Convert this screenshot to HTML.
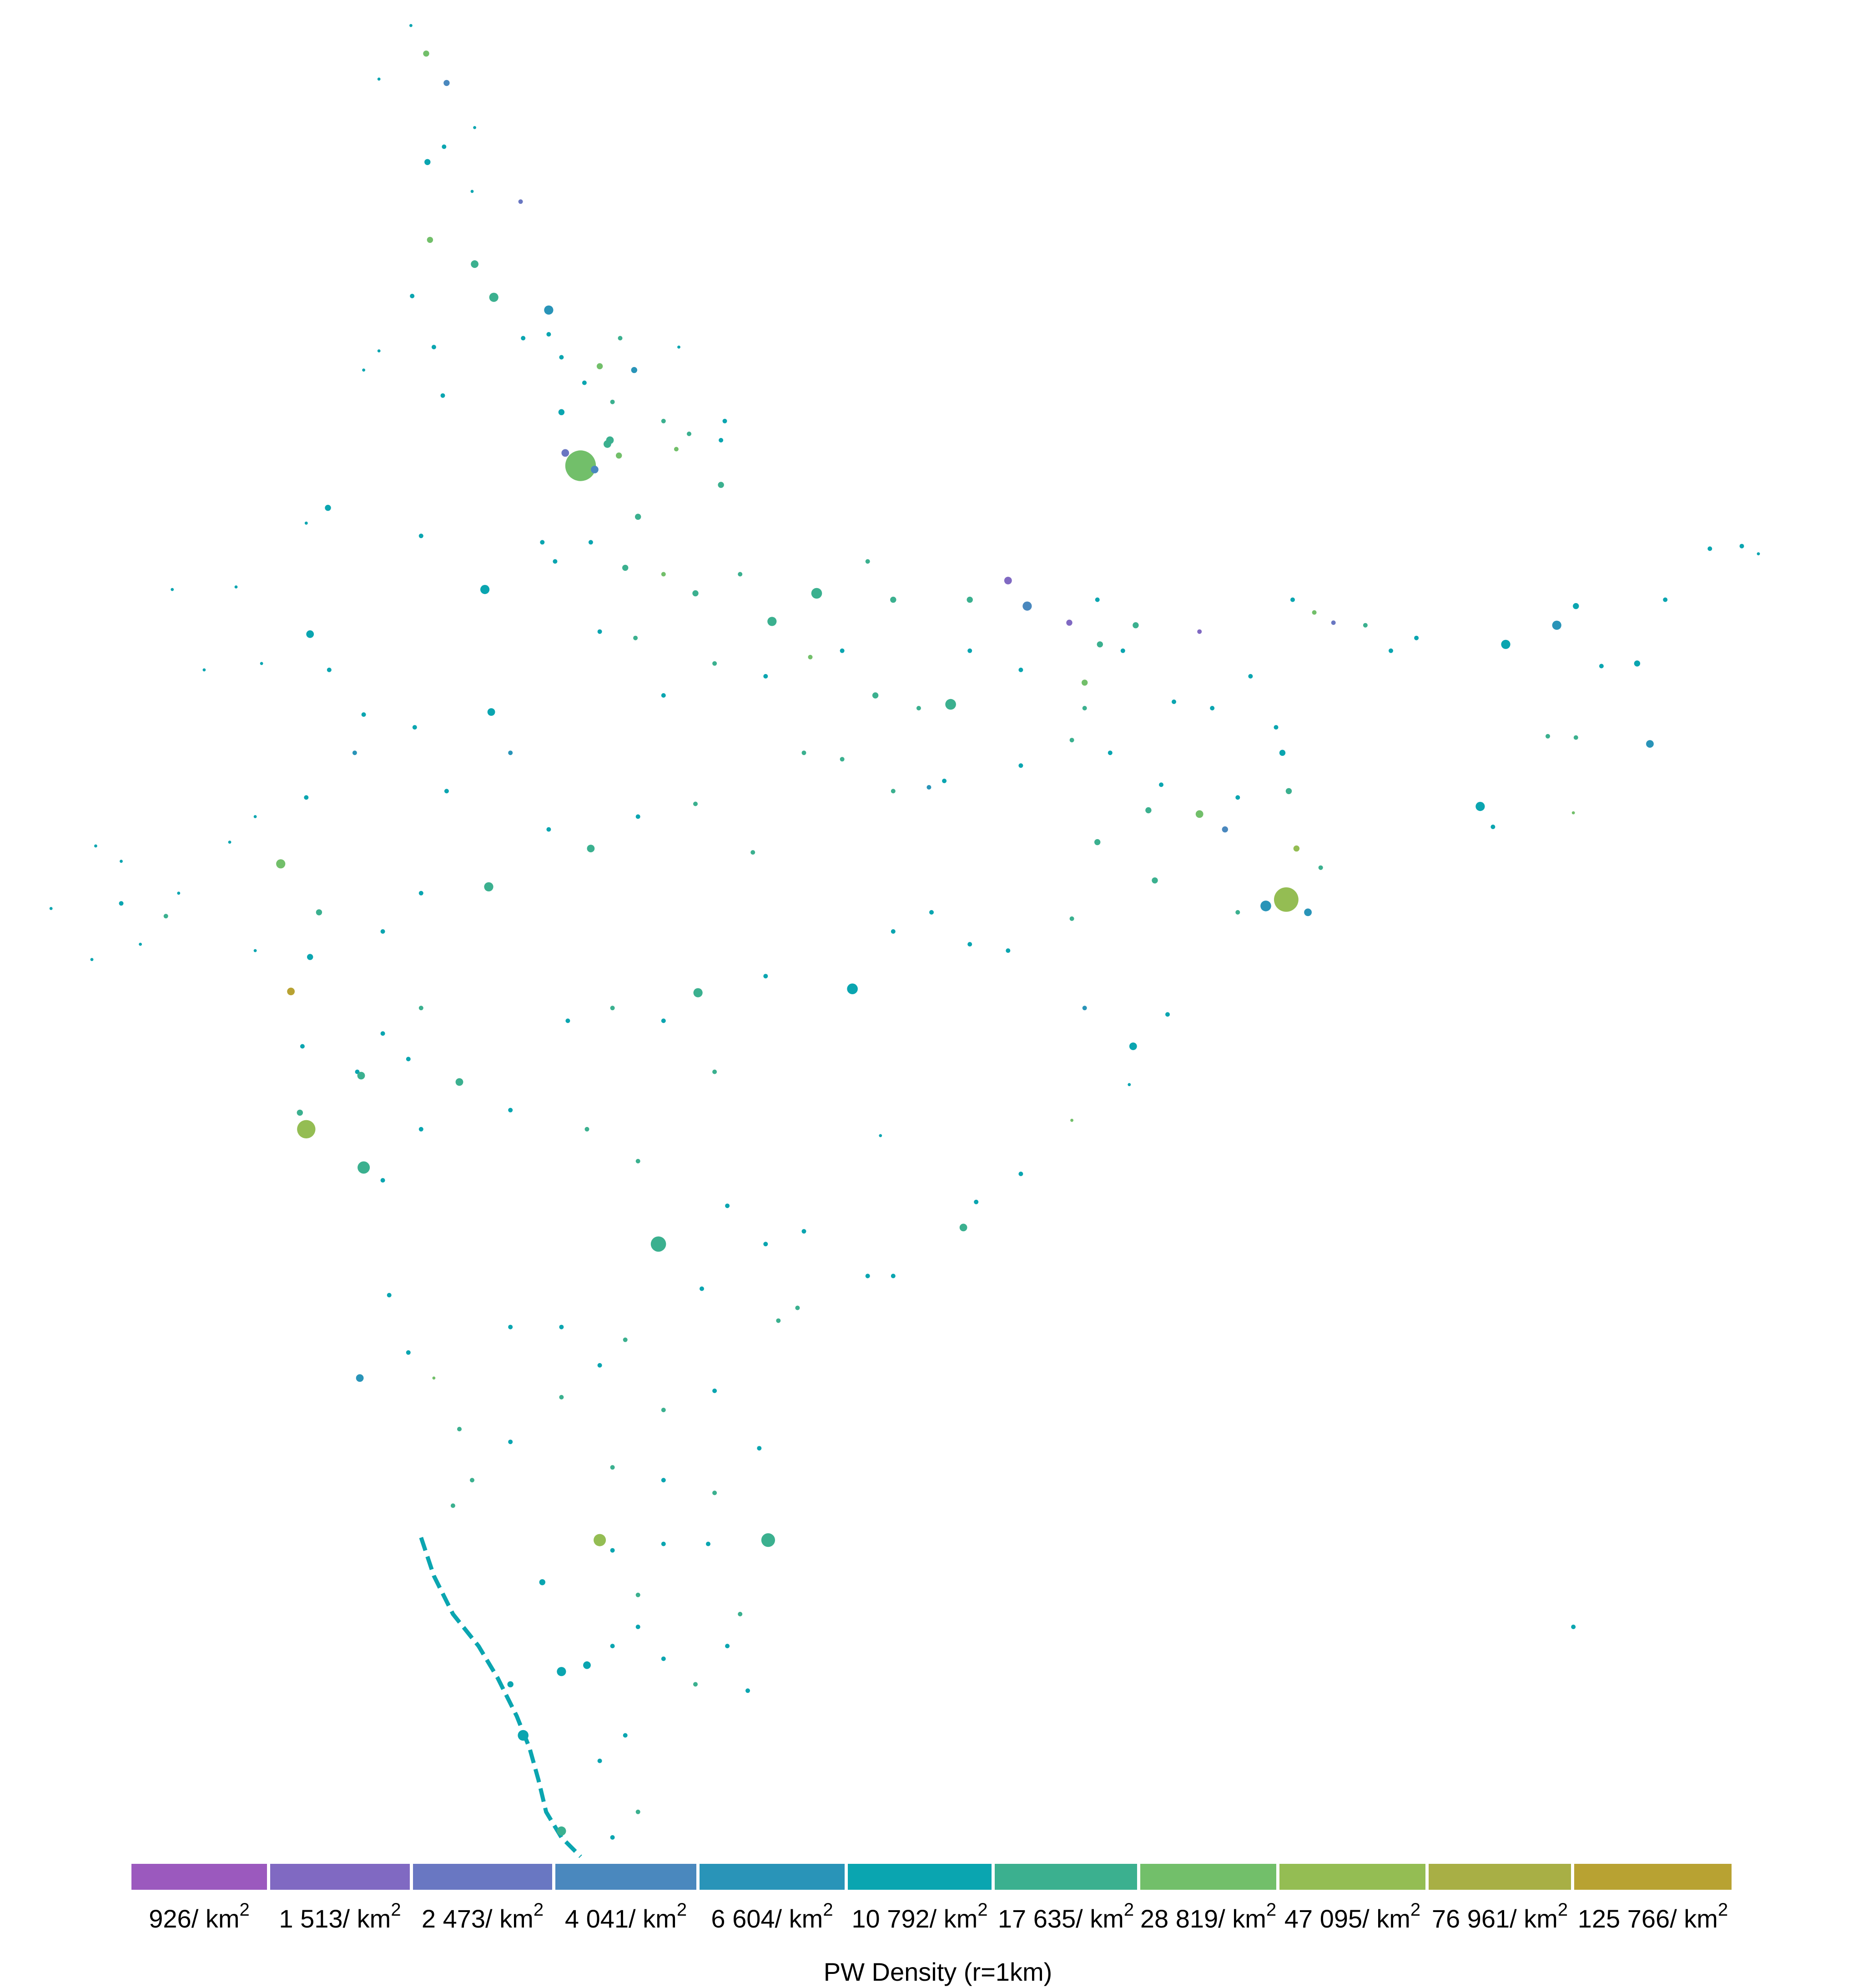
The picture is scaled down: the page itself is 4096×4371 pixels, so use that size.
<!DOCTYPE html>
<html><head><meta charset="utf-8">
<style>
html,body{margin:0;padding:0;background:#fff;}
svg{display:block;}
text{font-family:"Liberation Sans Narrow","Liberation Sans",sans-serif;fill:#000;}
</style></head>
<body>
<svg id="chart" width="4096" height="4371" viewBox="0 0 4096 4371" xmlns="http://www.w3.org/2000/svg">
<g id="map"></g>
<g id="legend"></g>
<text x="2062" y="4355" font-size="56" text-anchor="middle">PW Density (r=1km)</text>
</svg>
<script>
const legendValues = ["926","1 513","2 473","4 041","6 604","10 792","17 635","28 819","47 095","76 961","125 766"];
const legendColors = ["#9b59be","#8069c2","#6977c2","#4a88be","#2994b8","#0aa5b0","#3bb08f","#72bf6a","#94bd53","#a8af45","#b8a232"];
const legendEdges = [289,594,908,1221,1538,1864,2187,2507,2813,3141,3461,3807];
// each city: [x, y (reference display units), radius, colour class]
const northCities = [[322,20,2,5],[334,42,4,7],[350,65,4,3],[297,62,2,5],[335,127,4,5],[348,115,3,5],[372,100,2,5],[370,150,2,5],[408,158,3,2],[337,188,4,7],[372,207,5,6],[387,233,6,6],[430,243,6,4],[323,232,3,5],[340,272,3,5],[297,275,2,5],[285,290,2,5],[347,310,3,5],[410,265,3,5],[430,262,3,5],[440,280,3,5],[470,287,4,7],[497,290,4,4],[486,265,3,6],[532,272,2,5],[458,300,3,5],[480,315,3,6],[440,323,4,5],[520,330,3,6],[568,330,3,5],[540,340,3,6],[565,345,3,5],[478,345,5,6],[530,352,3,7]];
const delhiCities = [[455,365,20,7],[443,355,5,2],[466,368,5,3],[485,357,4,7],[476,348,5,6]];
const midNorthCities = [[500,405,4,6],[565,380,4,6],[257,398,4,5],[240,410,2,5],[330,420,3,5],[380,462,6,5],[425,425,3,5],[463,425,3,5],[490,445,4,6],[520,450,3,7],[545,465,4,6],[580,450,3,6],[605,487,6,6],[640,465,7,6],[680,440,3,6],[700,470,4,6],[760,470,4,6],[790,455,5,1],[805,475,6,3],[838,488,4,1],[860,470,3,5],[890,490,4,6],[940,495,3,1],[880,510,3,5],[862,505,4,6],[850,535,4,7],[800,525,3,5],[760,510,3,5],[745,552,7,6],[720,555,3,6],[686,545,4,6],[660,510,3,5],[635,515,3,7],[600,530,3,5],[560,520,3,6],[520,545,3,5],[498,500,3,6],[470,495,3,5],[435,440,3,5]];
const northEastCities = [[1013,470,3,5],[1045,488,3,2],[1030,480,3,7],[1070,490,3,6],[1090,510,3,5],[1110,500,3,5],[1180,505,6,5],[1220,490,6,4],[1235,475,4,5],[1255,522,3,5],[1283,520,4,5],[1305,470,3,5],[1340,430,3,5],[1365,428,3,5],[1378,434,2,5],[1213,577,3,6],[1235,578,3,6],[1293,583,5,4],[1160,632,6,5],[1170,648,3,5],[1233,637,2,7],[1000,570,3,5],[1005,590,4,5],[1010,620,4,6]];
const eastCities = [[900,635,4,6],[940,638,5,7],[960,650,4,3],[970,625,3,5],[910,615,3,5],[860,660,4,6],[905,690,4,6],[840,720,3,6],[800,600,3,5],[840,580,3,6],[870,590,3,5],[850,555,3,6],[920,550,3,5],[950,555,3,5],[980,530,3,5]];
const kolkataCities = [[1008,705,16,8],[992,710,7,4],[1025,715,5,4],[970,715,3,6],[1035,680,3,6],[1016,665,4,8]];
const westCities = [[75,663,2,5],[95,675,2,5],[130,718,3,6],[95,708,3,5],[40,712,2,5],[72,752,2,5],[110,740,2,5],[140,700,2,5],[180,660,2,5],[200,640,2,5],[240,625,3,5],[220,677,6,7],[250,715,4,6],[243,750,4,5],[200,745,2,5],[228,777,5,10],[237,820,3,5],[280,840,3,5],[300,810,3,5],[330,790,3,6],[278,590,3,4],[243,497,5,5],[185,460,2,5],[135,462,2,5],[160,525,2,5],[205,520,2,5],[258,525,3,5],[285,560,3,5],[325,570,3,5],[385,558,5,5],[400,590,3,4],[350,620,3,5],[383,695,6,6],[330,700,3,5],[300,730,3,5],[463,665,5,6],[430,650,3,5],[500,640,3,5],[545,630,3,6],[590,668,3,6],[630,590,3,6],[660,595,3,6],[700,620,3,6],[740,612,3,5],[728,617,3,4]];
const centralCities = [[547,778,6,6],[668,775,7,5],[700,730,3,5],[730,715,3,5],[760,740,3,5],[790,745,3,5],[850,790,3,4],[888,820,5,5],[885,850,2,5],[915,795,3,5],[840,878,2,7],[800,920,3,5],[765,942,3,5],[755,962,5,6],[690,890,2,5],[600,765,3,5],[480,790,3,6],[445,800,3,5],[520,800,3,5],[560,840,3,6],[500,910,3,6],[460,885,3,6],[400,870,3,5],[360,848,5,6],[330,885,3,5],[300,925,3,5],[320,830,3,5],[283,843,5,6]];
const mumbaiPuneCities = [[240,885,12,8],[235,872,4,6],[285,915,8,6]];
const deccanCities = [[516,975,10,6],[570,945,3,5],[600,975,3,5],[630,965,3,5],[680,1000,3,5],[700,1000,3,5],[625,1025,3,6],[610,1035,3,6],[550,1010,3,5],[490,1050,3,6],[440,1040,3,5],[400,1040,3,5],[320,1060,3,5],[282,1080,5,4],[305,1015,3,5],[340,1080,2,7],[360,1120,3,6],[400,1130,3,5],[440,1095,3,6],[470,1070,3,5],[520,1105,3,6],[560,1090,3,5],[595,1135,3,5],[560,1170,3,6],[520,1160,3,5],[480,1150,3,6]];
const southCities = [[470,1207,8,8],[602,1207,9,6],[480,1215,3,5],[520,1210,3,5],[555,1210,3,5],[425,1240,4,5],[440,1310,6,5],[460,1305,5,5],[500,1250,3,6],[500,1275,3,5],[520,1300,3,5],[580,1265,3,6],[570,1290,3,5],[545,1320,3,6],[586,1325,3,5],[480,1290,3,5],[470,1380,3,5],[490,1360,3,5],[500,1420,3,6],[480,1440,3,5],[440,1435,6,6],[410,1360,7,5],[400,1320,4,5],[355,1180,3,6],[370,1160,3,6],[1233,1275,3,5]];
// Kerala coastline strip (display coords)
const coastX = [330,340,355,375,390,405,415,422,428,440,455];
const coastY = [1205,1235,1265,1290,1315,1345,1370,1395,1420,1440,1455];

const S = 4096/1460;
const sx = v => v*S, sy = v => v*S;
const NS = "http://www.w3.org/2000/svg";
const map = document.getElementById('map');
const allCities = [].concat(northCities, delhiCities, midNorthCities, northEastCities, eastCities, kolkataCities, westCities, centralCities, mumbaiPuneCities, deccanCities, southCities);
const pl = document.createElementNS(NS,'polyline');
pl.setAttribute('points', coastX.map((x,i)=>sx(x).toFixed(1)+','+sy(coastY[i]).toFixed(1)).join(' '));
pl.setAttribute('fill','none');
pl.setAttribute('stroke', legendColors[5]);
pl.setAttribute('stroke-width','9');
pl.setAttribute('stroke-dasharray','30 14');


map.appendChild(pl);
for (const p of allCities){
  const c = document.createElementNS(NS,'circle');
  c.setAttribute('cx', sx(p[0]).toFixed(1));
  c.setAttribute('cy', sy(p[1]).toFixed(1));
  c.setAttribute('r', (p[2]*S*0.6).toFixed(1));
  c.setAttribute('fill', legendColors[p[3]]);
  
  
  map.appendChild(c);
}

const lg = document.getElementById('legend');
for (let i=0;i<legendValues.length;i++){
  const x0 = legendEdges[i];
  const x1 = (i===legendValues.length-1) ? legendEdges[i+1] : legendEdges[i+1]-7;
  const r = document.createElementNS(NS,'rect');
  r.setAttribute('x', x0);
  r.setAttribute('y', 4098);
  r.setAttribute('width', x1-x0);
  r.setAttribute('height', 57);
  r.setAttribute('fill', legendColors[i]);
  
  
  lg.appendChild(r);
  const t = document.createElementNS(NS,'text');
  t.setAttribute('x', ((x0+x1)/2).toFixed(1));
  t.setAttribute('y', 4238);
  t.setAttribute('font-size', 56);
  t.setAttribute('text-anchor','middle');
  
  
  t.innerHTML = legendValues[i] + '/ km<tspan font-size="40" dy="-26">2</tspan>';
  lg.appendChild(t);
}
</script>
</body></html>
